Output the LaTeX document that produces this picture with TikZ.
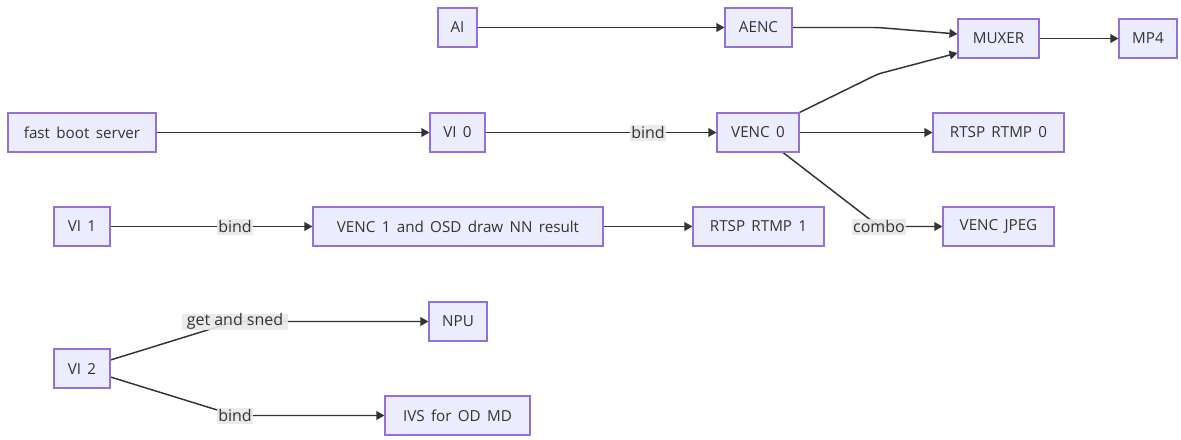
\documentclass[tikz,border=0pt]{standalone}
\usepackage{fontspec}
\setmainfont{Open Sans}
\newfontfamily\boxfont[WordSpace=1.6]{Open Sans}
\usetikzlibrary{arrows.meta,calc}
\definecolor{boxfill}{HTML}{ECECFF}
\definecolor{boxline}{HTML}{9370DB}
\definecolor{ink}{HTML}{333333}
\definecolor{labelbg}{HTML}{E8E8E8}
\pgfdeclarelayer{edges}
\pgfsetlayers{edges,main}
\tikzset{
  box/.style={draw=boxline, fill=boxfill, line width=0.8pt, text=ink,
    font=\boxfont\fontsize{11.4pt}{14pt}\selectfont,
    minimum height=29.25pt, inner sep=0pt, minimum width=#1*0.75pt},
  elabel/.style={fill=labelbg, fill opacity=0.9, text opacity=1, text=ink,
    font=\fontsize{12pt}{14pt}\selectfont, inner xsep=1.2pt, inner ysep=0pt,
    minimum height=12pt},
  link/.style={draw=ink, line width=1.1pt, rounded corners=3pt,
    -{Triangle[length=6pt,width=6.5pt]}}
}
\begin{document}
\begin{tikzpicture}[x=0.75pt,y=-0.75pt]
\useasboundingbox (0,0) rectangle (1181,439);

% boxes
\node[box=39]  (ai)    at (457.5,27.5)  {AI};
\node[box=67]  (aenc)  at (758.5,27.5)  {AENC};
\node[box=81]  (muxer) at (998.5,38.5)  {MUXER};
\node[box=58]  (mp4)   at (1148,38.5)   {MP4};
\node[box=148] (fbs)   at (82,132.5)    {fast boot server};
\node[box=55]  (vi0)   at (457.5,132.5) {VI 0};
\node[box=82]  (venc0) at (758,132.5)   {VENC 0};
\node[box=131] (rtsp0) at (998.5,132.5) {RTSP RTMP 0};
\node[box=56]  (vi1)   at (82,226.5)    {VI 1};
\node[box=290] (venc1) at (458,226.5)   {VENC 1 and OSD draw NN result};
\node[box=131] (rtsp1) at (758.5,226.5) {RTSP RTMP 1};
\node[box=111] (jpeg)  at (998.5,226.5) {VENC JPEG};
\node[box=56]  (vi2)   at (82,368.5)    {VI 2};
\node[box=58]  (npu)   at (458,321.5)   {NPU};
\node[box=145] (ivs)   at (457.5,415.5) {IVS for OD MD};

% edge labels
\node[elabel] (lbind0) at (648,132.5) {bind};
\node[elabel] (lbind1) at (235,226.5) {bind};
\node[elabel] (lcombo) at (879,226.5) {combo};
\node[elabel, inner xsep=3.5pt] (lget) at (235,321.5) {get and sned};
\node[elabel] (lbind2) at (235,415.5) {bind};

% bend points
\coordinate (b1) at (878,27.5);
\coordinate (b2) at (878,74);

\begin{pgfonlayer}{edges}
\draw[link] (ai.east) -- (aenc.west);
\draw[link] (aenc.east) -- (b1) -- ($(muxer.west)+(0,-4.5)$);
\draw[link] (venc0.north east) -- (b2) -- ($(muxer.west)+(0,14.5)$);
\draw[link] (muxer.east) -- (mp4.west);
\draw[link] (fbs.east) -- (vi0.west);
\draw[link] (vi0.east) -- (lbind0.center) -- (venc0.west);
\draw[link] (venc0.east) -- (rtsp0.west);
\draw[link] ($(venc0.south)+(25,0)$) -- (lcombo.center) -- (jpeg.west);
\draw[link] (vi1.east) -- (lbind1.center) -- (venc1.west);
\draw[link] (venc1.east) -- (rtsp1.west);
\draw[link] ($(vi2.east)+(0,-8.5)$) -- (lget.center) -- (npu.west);
\draw[link] ($(vi2.east)+(0,8.5)$) -- (lbind2.center) -- (ivs.west);
\end{pgfonlayer}
\end{tikzpicture}
\end{document}
